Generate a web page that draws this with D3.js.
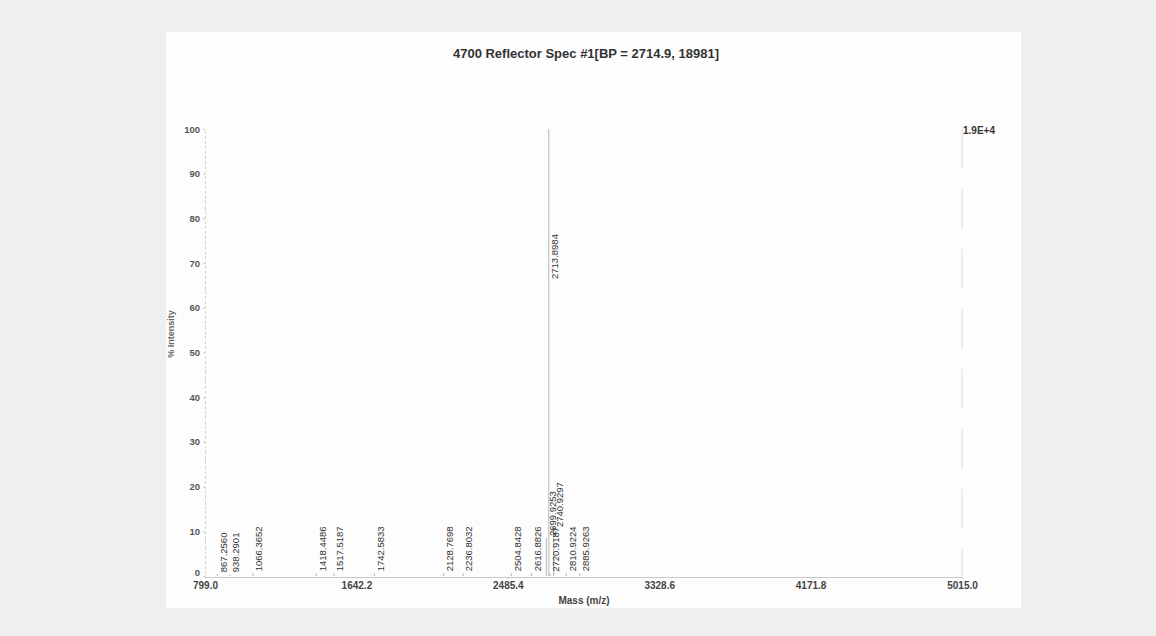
<!DOCTYPE html>
<html><head><meta charset="utf-8">
<script src="https://cdn.jsdelivr.net/npm/d3@7"></script>
<style>
html,body{margin:0;padding:0;background:#efefef;}
svg{display:block;font-family:"Liberation Sans",Arial,sans-serif;}
</style></head>
<body>
<script>
const peakMasses = [867.2560, 938.2901, 1066.3652, 1418.4486, 1517.5187, 1742.5833, 2128.7698, 2236.8032, 2504.8428, 2616.8826, 2699.9253, 2713.8984, 2720.9187, 2740.9297, 2810.9224, 2885.9263];
const peakIntensities = [0.4, 0.4, 0.6, 0.6, 0.6, 0.6, 0.6, 0.6, 0.6, 0.6, 8.5, 100, 0.5, 10.5, 0.6, 0.6];
const xTickLabels = ["799.0", "1642.2", "2485.4", "3328.6", "4171.8", "5015.0"];
const yTickValues = [0, 10, 20, 30, 40, 50, 60, 70, 80, 90, 100];
const titleText = "4700 Reflector Spec #1[BP = 2714.9, 18981]";
const maxCountLabel = "1.9E+4";

const W = 1156, H = 636;
const svg = d3.select("body").append("svg").attr("width", W).attr("height", H);
svg.append("rect").attr("x", 166).attr("y", 32).attr("width", 855).attr("height", 576).attr("fill", "#fdfdfd");

const x = d3.scaleLinear().domain([799.0, 5015.0]).range([205, 962]);
const y = d3.scaleLinear().domain([0, 100]).range([576, 129]);

// title
svg.append("text").attr("x", 586).attr("y", 58).attr("text-anchor", "middle")
  .attr("font-size", 13).attr("font-weight", "bold").attr("fill", "#333").text(titleText);

// y axis
const yAxis = d3.axisLeft(y).tickValues(yTickValues).tickSize(2).tickFormat(d3.format("d"));
const gy = svg.append("g").attr("transform", "translate(205,0)").call(yAxis);
gy.select(".domain").attr("stroke", "#d4d4d4").attr("stroke-dasharray", "3,2");
gy.selectAll(".tick line").attr("stroke", "#c4c4c4");
gy.selectAll(".tick text").attr("font-size", 9.5).attr("font-weight", "bold").attr("fill", "#555").attr("x", -5)
  .attr("dy", d => d === 0 ? "-0.1em" : "0.32em");

// minor y ticks
const minor = d3.range(0, 101, 2);
svg.append("g").selectAll("line").data(minor).join("line")
  .attr("x1", 204).attr("x2", 206).attr("y1", d => y(d)).attr("y2", d => y(d)).attr("stroke", "#e2e2e2");

// x axis
const xTickVals = xTickLabels.map(Number);
const xAxis = d3.axisBottom(x).tickValues(xTickVals).tickSize(2).tickFormat((d, i) => xTickLabels[i]);
const gx = svg.append("g").attr("transform", "translate(0,577)").call(xAxis);
gx.select(".domain").attr("stroke", "#c8c8c8");
gx.selectAll(".tick line").attr("stroke", "#ccc");
gx.selectAll(".tick text").attr("font-size", 10).attr("font-weight", "bold").attr("fill", "#444").attr("y", 5);

// right frame line
svg.append("line").attr("x1", x(5015.0)).attr("x2", x(5015.0)).attr("y1", y(100)).attr("y2", y(0))
  .attr("stroke", "#dadada").attr("stroke-dasharray", "40,20");

// axis titles
svg.append("text").attr("transform", "translate(174,334) rotate(-90)").attr("text-anchor", "middle")
  .attr("font-size", 9).attr("font-weight", "bold").attr("fill", "#666").text("% Intensity");
svg.append("text").attr("x", 584).attr("y", 604).attr("text-anchor", "middle")
  .attr("font-size", 10).attr("font-weight", "bold").attr("fill", "#444").text("Mass (m/z)");
svg.append("text").attr("x", 963).attr("y", 134).attr("font-size", 10).attr("font-weight", "bold")
  .attr("fill", "#333").text(maxCountLabel);

// peaks
const peaks = peakMasses.map((m, i) => ({ m, v: peakIntensities[i] }));
svg.append("g").selectAll("line").data(peaks).join("line")
  .attr("x1", d => x(d.m)).attr("x2", d => x(d.m))
  .attr("y1", y(0)).attr("y2", d => y(d.v))
  .attr("stroke", "#b5b5b5").attr("stroke-width", 1);

// peak labels
svg.append("g").selectAll("text").data(peaks).join("text")
  .attr("transform", d => `translate(${x(d.m) + 6},${y(Math.min(d.v, 66)) - 2}) rotate(-90)`)
  .attr("dy", "0.35em").attr("font-size", 9.5).attr("fill", "#333")
  .text(d => d.m.toFixed(4));
</script>
</body></html>
